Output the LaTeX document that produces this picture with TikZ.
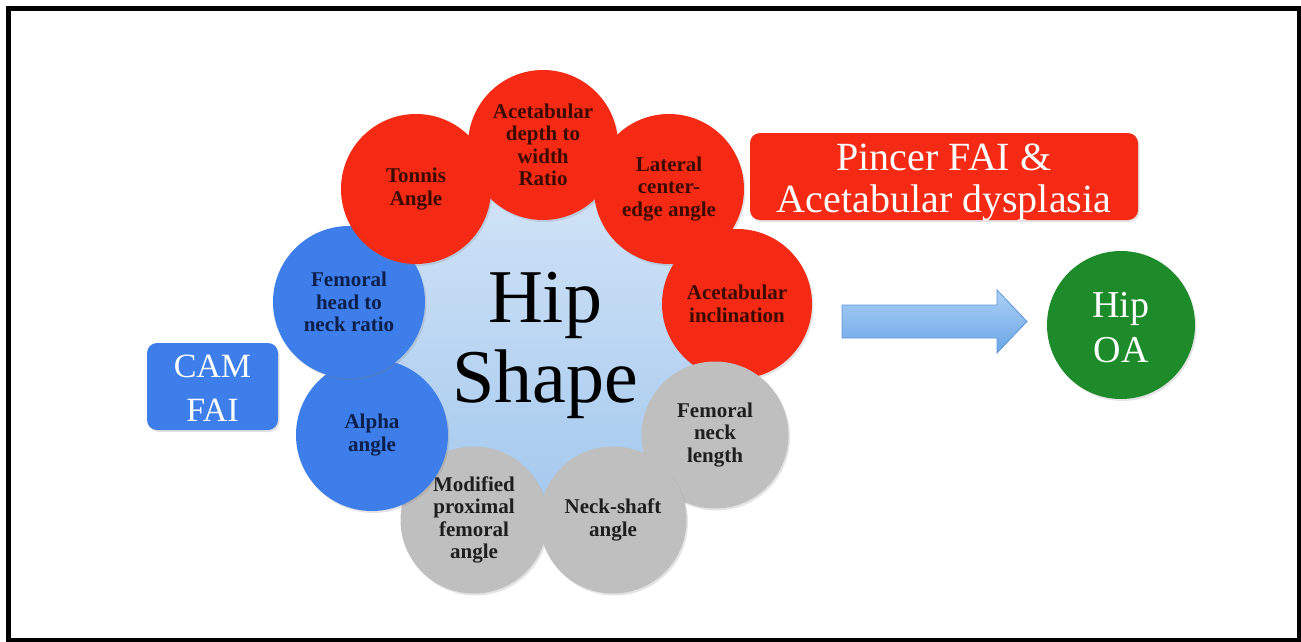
\documentclass[tikz,border=0pt]{standalone}
\usepackage{fontspec}
\setmainfont{Liberation Serif}
\usetikzlibrary{shadows}
\definecolor{cred}{HTML}{F42A14}
\definecolor{credtxt}{HTML}{3D0A02}
\definecolor{cblue}{HTML}{3D7EEA}
\definecolor{cbluetxt}{HTML}{0D1F4D}
\definecolor{cgray}{HTML}{BFBFBF}
\definecolor{cgraytxt}{HTML}{1E1E1E}
\definecolor{cgreen}{HTML}{1E8B2B}
\definecolor{hubtop}{HTML}{D3E4F7}
\definecolor{hubbot}{HTML}{A5C9EE}
\definecolor{arrtop}{HTML}{ABD0F6}
\definecolor{arrbot}{HTML}{6AA5E6}
\definecolor{arrline}{HTML}{5E97DA}
\begin{document}
\begin{tikzpicture}[x=1pt,y=-1pt,
  softshadow/.style={drop shadow={opacity=0.22,shadow xshift=1.5pt,shadow yshift=-2pt}},
  bub/.style={circle, inner sep=0pt, align=center, softshadow,
    font=\fontsize{21}{22.5}\selectfont\bfseries},
  redbub/.style={bub, fill=cred, text=credtxt, minimum size=150pt},
  bluebub/.style={bub, fill=cblue, text=cbluetxt, minimum size=152pt},
  graybub/.style={bub, fill=cgray, text=cgraytxt, minimum size=147pt},
  labelbox/.style={rounded corners=10pt, inner sep=0pt, softshadow},
  labeltext/.style={align=center, text=white, inner sep=0pt}]
\useasboundingbox (0,0) rectangle (1301,642);
\fill[white] (0,0) rectangle (1301,642);
\draw[line width=5pt] (8.5,8.5) rectangle (1299,640);

% central hub
\node[circle, minimum size=330pt, inner sep=0pt, top color=hubtop, bottom color=hubbot] (hub) at (543,337) {};

% ring of measurement circles
\node[graybub] (modified) at (474,520) {Modified\\proximal\\femoral\\angle};
\node[bluebub] (alpha) at (372,435) {Alpha\\angle};
\node[bluebub] (femhead) at (349,302) {Femoral\\head to\\neck ratio};
\node[redbub] (tonnis) at (416,189) {Tonnis\\Angle};
\node[redbub] (depth) at (543,145) {Acetabular\\depth to\\width\\Ratio};
\node[redbub] (lateral) at (669,189) {Lateral\\center-\\edge angle};
\node[redbub] (incl) at (737,304) {Acetabular\\inclination};
\node[graybub] (necklen) at (715,435) {Femoral\\neck\\length};
\node[graybub] (neckshaft) at (613,520) {Neck-shaft\\angle};

% hub title
\node[align=center, font=\fontsize{76}{80}\selectfont, text=black] (title) at (545,345) {Hip\\Shape};

% category boxes
\node[labelbox, fill=cred, minimum width=388pt, minimum height=87pt] (pincer) at (944,176.5) {};
\node[labeltext, font=\fontsize{40}{42}\selectfont] (pincertext) at (944,183) {Pincer FAI \&\\Acetabular dysplasia};
\node[labelbox, fill=cblue, minimum width=131pt, minimum height=87pt] (cam) at (212.5,386.5) {};
\node[labeltext, font=\fontsize{34}{44}\selectfont] (camtext) at (212.5,388) {CAM\\FAI};

% outcome
\node[circle, fill=cgreen, minimum size=148pt, inner sep=0pt, softshadow] (oa) at (1121,325) {};
\node[labeltext, font=\fontsize{38}{45}\selectfont] (oatext) at (1121,328) {Hip\\OA};

% block arrow
\shade[top color=arrtop, bottom color=arrbot, draw=arrline, line width=0.8pt]
  (842,305) -- (997,305) -- (997,290) -- (1027,321.5) -- (997,353) -- (997,338) -- (842,338) -- cycle;
\end{tikzpicture}
\end{document}
